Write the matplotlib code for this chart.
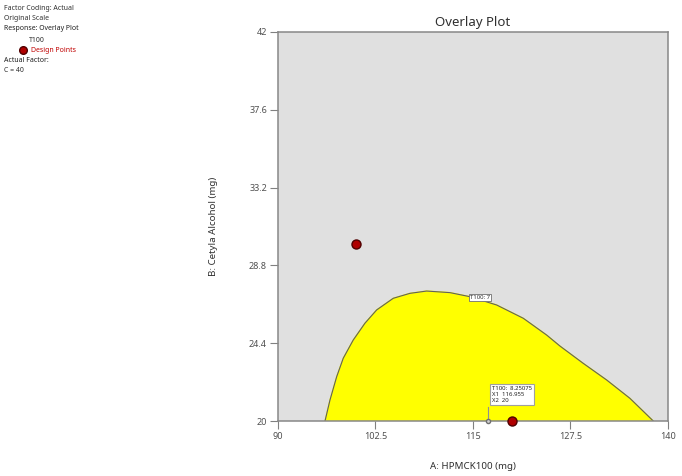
import matplotlib
matplotlib.use("Agg")
import matplotlib.pyplot as plt

plt.rcParams['font.family'] = ['Noto Sans', 'DejaVu Sans']

# boundary of the T100 region (A, B)
curve_a = [96.03, 96.67, 97.53, 98.37, 99.65, 101.15, 102.65, 104.78, 106.92,
           109.06, 112.05, 114.62, 118.04, 121.45, 124.45, 126.15, 129.14,
           132.14, 135.13, 138.12]
curve_b = [20.0, 21.19, 22.51, 23.55, 24.58, 25.53, 26.28, 26.94, 27.22,
           27.35, 27.26, 27.03, 26.56, 25.81, 24.86, 24.24, 23.26,
           22.32, 21.28, 20.0]

design_a = [100, 120]
design_b = [30, 20]

xticks = [90, 102.5, 115, 127.5, 140]
yticks = [20, 24.4, 28.8, 33.2, 37.6, 42]

flag_x, flag_y, flag_val = 116.955, 20, 8.25075
contour_label = "T100: 7"
contour_pos = (115.9, 27.0)

fig = plt.figure(figsize=(6.82, 4.76), dpi=100)
ax = fig.add_axes([0.4076, 0.1155, 0.5718, 0.8173])
ax.set_facecolor('#e0e0e0')

ax.fill(curve_a + [curve_a[0]], curve_b + [curve_b[0]], color='#ffff00', zorder=1)
ax.plot(curve_a, curve_b, color='#606060', lw=0.8, zorder=2)

ax.text(contour_pos[0], contour_pos[1], contour_label, fontsize=4.3, ha='center',
        va='center', color='#303030', zorder=4,
        bbox=dict(boxstyle='square,pad=0.2', fc='white', ec='#707070', lw=0.6))

ax.plot(design_a, design_b, 'o', color='#b00000', mec='#500000', ms=6.5,
        zorder=5, clip_on=False)

# flag
ax.plot([flag_x, flag_x], [flag_y, 20.8], color='#909090', lw=0.8, zorder=3)
ax.plot(flag_x, flag_y, 'o', mfc='#d0d0d0', mec='#707070', ms=3, zorder=4,
        clip_on=False)
ax.annotate("T100:  %s\nX1  %s\nX2  %d" % (flag_val, flag_x, flag_y),
            xy=(flag_x, 20.8), xytext=(3, 2.5), textcoords='offset points',
            fontsize=4.3, ha='left', va='bottom', color='#202020', linespacing=1.25,
            zorder=4, bbox=dict(boxstyle='square,pad=0.35', fc='white',
                                ec='#a0a0a0', lw=0.8))

ax.set_xlim(90, 140)
ax.set_ylim(20, 42)
ax.set_xticks(xticks)
ax.set_xticklabels(['90', '102.5', '115', '127.5', '140'])
ax.set_yticks(yticks)
ax.set_yticklabels(['20', '24.4', '28.8', '33.2', '37.6', '42'])
ax.tick_params(direction='out', length=6, width=0.8, color='#808080',
               labelcolor='#505050', labelsize=6.5, pad=2)
for s in ax.spines.values():
    s.set_color('#888888')
    s.set_linewidth(1.1)

ax.set_title("Overlay Plot", fontsize=9.5, color='#303030', pad=4)
ax.set_xlabel("A: HPMCK100 (mg)", fontsize=7, color='#303030', labelpad=15)
ax.set_ylabel("B: Cetyla Alcohol (mg)", fontsize=7, color='#303030', labelpad=22)

# legend block on the left
fs = 5
x0 = 4/682
fig.text(x0, 1 - 9/476, "Factor Coding: Actual", fontsize=fs, va='center', color='#303030')
fig.text(x0, 1 - 19/476, "Original Scale", fontsize=fs, va='center', color='#303030')
fig.text(x0, 1 - 29/476, "Response: Overlay Plot", fontsize=fs, va='center',
         fontweight='bold', color='#202020')
fig.text(29/682, 1 - 40/476, "T100", fontsize=fs, va='center', color='#303030')
fig.lines.append(plt.Line2D([23/682], [1 - 50/476], marker='o', color='#b00000',
                            mec='#500000', ms=5.5, transform=fig.transFigure))
fig.text(31/682, 1 - 50/476, "Design Points", fontsize=fs, va='center', color='#c00000')
fig.text(x0, 1 - 60/476, "Actual Factor:", fontsize=fs, va='center',
         fontweight='bold', color='#202020')
fig.text(x0, 1 - 71/476, "C = 40", fontsize=fs, va='center', color='#303030')

fig.savefig("out.png", dpi=100)
